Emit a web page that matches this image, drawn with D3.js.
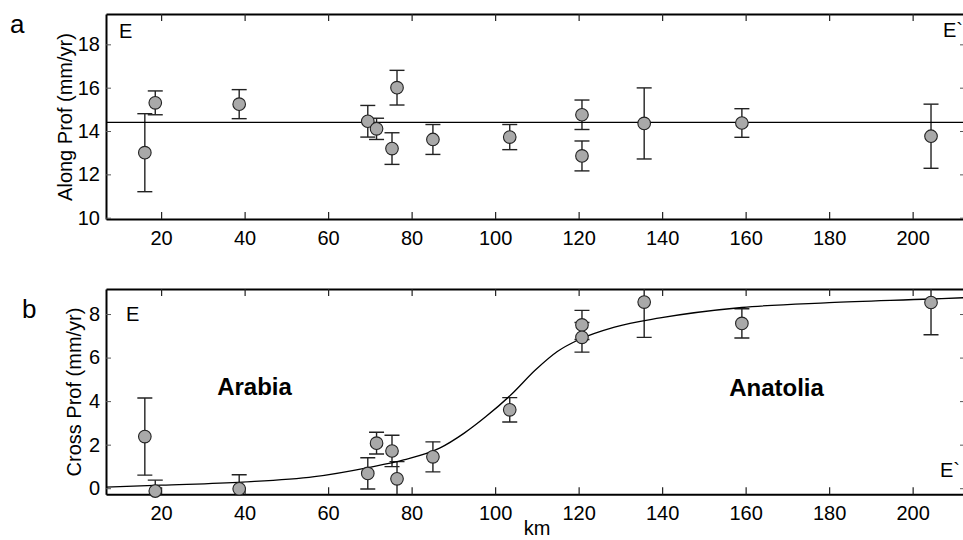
<!DOCTYPE html>
<html>
<head>
<meta charset="utf-8">
<script src="https://cdn.jsdelivr.net/npm/d3@7"></script>
<style>
  body { margin: 0; background: #fff; }
  svg { display: block; font-family: "Liberation Sans", Arial, sans-serif; }
</style>
</head>
<body>
<svg width="963" height="540"></svg>
<script>
// distance of each station along the profile (km)
const km = [16.1, 18.6, 38.7, 69.5, 71.6, 75.3, 76.5, 85.1, 103.5, 120.8, 120.8, 135.7, 159.1, 204.4];

// panel a: along-profile velocity and 1-sigma
const alongVel = [13.0, 15.3, 15.24, 14.45, 14.1, 13.19, 16.0, 13.61, 13.72, 14.75, 12.85, 14.35, 14.37, 13.76];
const alongErr = [1.8, 0.55, 0.67, 0.73, 0.49, 0.73, 0.8, 0.69, 0.58, 0.68, 0.69, 1.64, 0.66, 1.48];
const alongMean = 14.4;

// panel b: cross-profile velocity and 1-sigma
const crossVel = [2.37, -0.13, -0.03, 0.68, 2.07, 1.71, 0.43, 1.44, 3.6, 7.5, 6.93, 8.55, 7.57, 8.53];
const crossErr = [1.77, 0.5, 0.65, 0.72, 0.5, 0.72, 0.79, 0.69, 0.56, 0.67, 0.68, 1.62, 0.67, 1.48];

// model curve
const modelKm  = [6.8, 20, 39.6, 56.7, 69.6, 78.1, 86.7, 92.6, 97.8, 103.8, 109.7, 114.9, 120.0, 128.6, 139.5, 159.1, 180, 204.4, 212.3];
const modelVel = [0.05, 0.14, 0.28, 0.53, 0.95, 1.30, 1.84, 2.53, 3.29, 4.29, 5.44, 6.28, 6.82, 7.40, 7.82, 8.30, 8.52, 8.69, 8.75];

const xTicks = [20, 40, 60, 80, 100, 120, 140, 160, 180, 200];
const alongTicks = [10, 12, 14, 16, 18];
const crossTicks = [0, 2, 4, 6, 8];

const svg = d3.select('svg');
const x = d3.scaleLinear().domain([6.8, 212.3]).range([106, 964]);
const left = 106, right = 964;

function panel(id, top, bottom, yDomain, yTicks, vel, err) {
    const y = d3.scaleLinear().domain(yDomain).range([bottom, top]);
    const g = svg.append('g');

    g.append('clipPath').attr('id', 'clip-' + id)
        .append('rect')
        .attr('x', left).attr('y', top)
        .attr('width', right - left).attr('height', bottom - top);

    // bottom axis with labels, ticks pointing in
    const xb = g.append('g').attr('transform', `translate(0,${bottom})`)
        .call(d3.axisBottom(x).tickValues(xTicks).tickSizeInner(-7).tickSizeOuter(0).tickPadding(12));
    // top axis, ticks only
    const xt = g.append('g').attr('transform', `translate(0,${top})`)
        .call(d3.axisTop(x).tickValues(xTicks).tickSizeInner(-7).tickSizeOuter(0).tickFormat(''));
    // left axis
    const yl = g.append('g').attr('transform', `translate(${left},0)`)
        .call(d3.axisLeft(y).tickValues(yTicks).tickSizeInner(-5).tickSizeOuter(0).tickPadding(6));
    // right axis, ticks only
    const yr = g.append('g').attr('transform', `translate(${right},0)`)
        .call(d3.axisRight(y).tickValues(yTicks).tickSizeInner(-4).tickSizeOuter(0).tickFormat(''));

    [xb, xt, yl].forEach(a => a.select('.domain').attr('stroke', '#000').attr('stroke-width', 2));
    yr.select('.domain').remove();
    [xb, xt].forEach(a => a.selectAll('.tick line').attr('stroke', '#222').attr('stroke-width', 1.2));
    [yl, yr].forEach(a => a.selectAll('.tick line').attr('stroke', '#555').attr('stroke-width', 1));
    [xb, yl].forEach(a => a.selectAll('.tick text')
        .attr('font-size', 20).attr('font-family', '"Liberation Sans", Arial, sans-serif').attr('fill', '#000'));

    // error bars (clipped to the frame)
    const bars = g.append('g').attr('clip-path', `url(#clip-${id})`)
        .attr('stroke', '#222').attr('stroke-width', 1.4).attr('fill', 'none');
    km.forEach((k, i) => {
        const cx = x(k), y0 = y(vel[i] - err[i]), y1 = y(vel[i] + err[i]);
        bars.append('line').attr('x1', cx).attr('x2', cx).attr('y1', y0).attr('y2', y1);
        bars.append('line').attr('x1', cx - 7.5).attr('x2', cx + 7.5).attr('y1', y0).attr('y2', y0);
        bars.append('line').attr('x1', cx - 7.5).attr('x2', cx + 7.5).attr('y1', y1).attr('y2', y1);
    });

    return { g, y };
}

// ---- panel a ----
const a = panel('a', 14, 219, [9.94, 19.4], alongTicks, alongVel, alongErr);
a.g.append('line')
    .attr('x1', left).attr('x2', right)
    .attr('y1', a.y(alongMean)).attr('y2', a.y(alongMean))
    .attr('stroke', '#000').attr('stroke-width', 1.3);
a.g.selectAll('circle.pt').data(km).enter().append('circle')
    .attr('class', 'pt')
    .attr('cx', d => x(d)).attr('cy', (d, i) => a.y(alongVel[i]))
    .attr('r', 6.3).attr('fill', '#a9a9a9').attr('stroke', '#222').attr('stroke-width', 1.1);

// ---- panel b ----
const b = panel('b', 289, 494.3, [-0.28, 9.15], crossTicks, crossVel, crossErr);
const line = d3.line().x((d, i) => x(modelKm[i])).y(d => b.y(d)).curve(d3.curveMonotoneX);
b.g.append('path').datum(modelVel)
    .attr('clip-path', 'url(#clip-b)')
    .attr('d', line).attr('fill', 'none').attr('stroke', '#000').attr('stroke-width', 1.3);
b.g.selectAll('circle.pt').data(km).enter().append('circle')
    .attr('class', 'pt')
    .attr('cx', d => x(d)).attr('cy', (d, i) => b.y(crossVel[i]))
    .attr('r', 6.3).attr('fill', '#a9a9a9').attr('stroke', '#222').attr('stroke-width', 1.1);

// ---- labels ----
function label(txt, px, py, size, opts = {}) {
    const t = svg.append('text').attr('x', px).attr('y', py)
        .attr('font-size', size).attr('fill', '#000').text(txt);
    if (opts.anchor) t.attr('text-anchor', opts.anchor);
    if (opts.bold) t.attr('font-weight', 'bold');
    if (opts.rotate) t.attr('transform', `rotate(-90,${px},${py})`);
    return t;
}

label('a', 10, 33, 26);
label('b', 22, 318, 26);
label('E', 119, 38, 20);
label('E`', 943, 37, 20);
label('E', 126, 321, 20);
label('E`', 940, 477, 20);
label('Along Prof (mm/yr)', 72, 117, 20, { anchor: 'middle', rotate: true });
label('Cross Prof (mm/yr)', 81, 392, 20, { anchor: 'middle', rotate: true });
label('km', 537, 535, 20, { anchor: 'middle' });
label('Arabia', 254.5, 395, 24, { anchor: 'middle', bold: true });
label('Anatolia', 776.5, 396, 24, { anchor: 'middle', bold: true });
</script>
</body>
</html>
